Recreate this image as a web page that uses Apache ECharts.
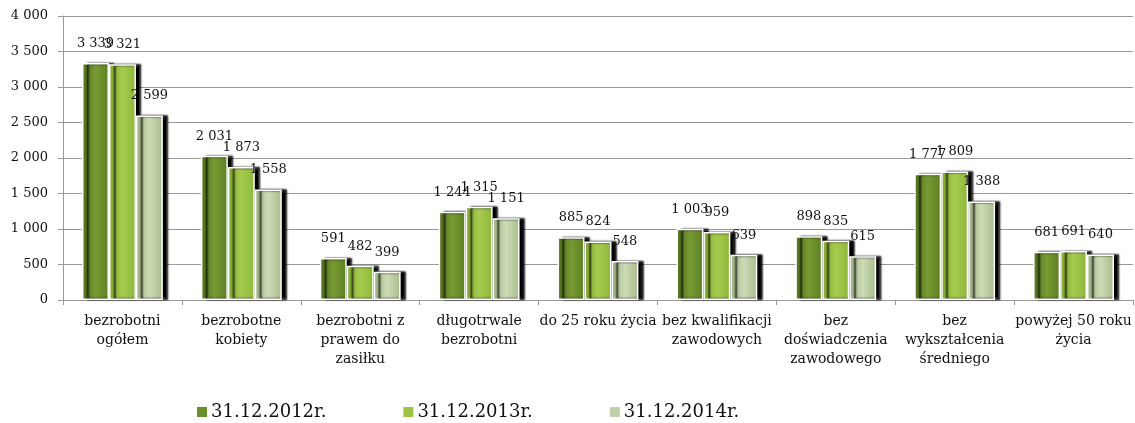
<!DOCTYPE html>
<html><head><meta charset="utf-8">
<script src="https://cdn.jsdelivr.net/npm/echarts@6/dist/echarts.min.js"></script>
<style>html,body{margin:0;padding:0;background:#fff}#c{width:1135px;height:423px}</style>
</head><body><div id="c"></div>
<script>
const categories = ['bezrobotni\nogółem','bezrobotne\nkobiety','bezrobotni z\nprawem do\nzasiłku','długotrwale\nbezrobotni','do 25 roku życia','bez kwalifikacji\nzawodowych','bez\ndoświadczenia\nzawodowego','bez\nwykształcenia\nśredniego','powyżej 50 roku\nżycia'];
const seriesNames = ['31.12.2012r.','31.12.2013r.','31.12.2014r.'];
const s2012 = [3339, 2031, 591, 1244, 885, 1003, 898, 1777, 681];
const s2013 = [3321, 1873, 482, 1315, 824, 959, 835, 1809, 691];
const s2014 = [2599, 1558, 399, 1151, 548, 639, 615, 1388, 640];
const yTicks = {min: 0, max: 4000, interval: 500};

const fmt = v => { const s = String(Math.round(v)); return s.replace(/\B(?=(\d{3})+(?!\d))/g, ' '); };
const font = "'DejaVu Serif', serif";
const grads = [
  ['#50701c','#789a33','#5c7f22'],
  ['#84ab31','#a6cc4e','#8db639'],
  ['#9db282','#cddcb6','#a7bb8b']
];
const legendColors = ['#6b8f2a','#9cc444','#c0d0a8'];
function mk(name, data, i){
  const g = grads[i];
  return {
    name, type: 'bar', data,
    barGap: '0%', barCategoryGap: '32%',
    itemStyle: {
      color: {type:'linear', x:0,y:0,x2:1,y2:0, colorStops:[{offset:0,color:g[0]},{offset:0.5,color:g[1]},{offset:1,color:g[2]}]},
      borderColor: '#ffffff', borderWidth: 1.5,
      shadowColor: 'rgba(0,0,0,1)', shadowBlur: 2, shadowOffsetX: 5, shadowOffsetY: 0
    },
    label: {show: true, position: 'top', distance: 13, color: '#111', fontFamily: font, fontSize: 13, formatter: p => fmt(p.value)}
  };
}
const chart = echarts.init(document.getElementById('c'));
chart.setOption({
  animation: false,
  backgroundColor: '#fff',
  color: legendColors,
  grid: {left: 63, right: 2, top: 16, bottom: 123},
  legend: {
    data: seriesNames.map((n,i)=>({name:n, itemStyle:{color:legendColors[i], borderWidth:0, shadowBlur:0, shadowOffsetX:0}})),
    left: 192, top: 398, itemWidth: 10, itemHeight: 10, itemGap: 77, icon: 'rect',
    textStyle: {fontFamily: font, fontSize: 18, color: '#111', padding: [0,0,0,-1]}
  },
  xAxis: {
    type: 'category', data: categories,
    axisLine: {lineStyle: {color: '#999'}},
    axisTick: {show: true, length: 5, lineStyle: {color: '#999'}},
    axisLabel: {interval: 0, fontFamily: font, fontSize: 14, color: '#111', lineHeight: 19, margin: 12}
  },
  yAxis: {
    type: 'value', min: yTicks.min, max: yTicks.max, interval: yTicks.interval,
    axisLine: {show: true, lineStyle: {color: '#999'}},
    axisTick: {show: true, length: 5, lineStyle: {color: '#999'}},
    splitLine: {lineStyle: {color: '#999', width: 1.2}},
    axisLabel: {fontFamily: font, fontSize: 13, color: '#111', formatter: v => fmt(v), margin: 15}
  },
  series: [mk(seriesNames[0], s2012, 0), mk(seriesNames[1], s2013, 1), mk(seriesNames[2], s2014, 2)]
});
</script></body></html>
